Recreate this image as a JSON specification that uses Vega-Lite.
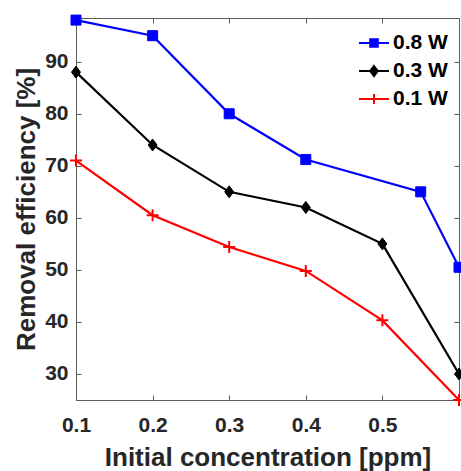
{
  "$schema": "https://vega.github.io/schema/vega-lite/v6.json",
  "width": 383,
  "height": 382,
  "autosize": {"type": "none"},
  "padding": {"left": 76, "top": 18, "right": 2, "bottom": 71},
  "background": "white",
  "data": {
    "values": [
      {"series": "0.8 W", "x": 0.1, "y": 98},
      {"series": "0.8 W", "x": 0.2, "y": 95},
      {"series": "0.8 W", "x": 0.3, "y": 80},
      {"series": "0.8 W", "x": 0.4, "y": 71.2},
      {"series": "0.8 W", "x": 0.55, "y": 65},
      {"series": "0.8 W", "x": 0.6, "y": 50.5},
      {"series": "0.3 W", "x": 0.1, "y": 88},
      {"series": "0.3 W", "x": 0.2, "y": 74},
      {"series": "0.3 W", "x": 0.3, "y": 65},
      {"series": "0.3 W", "x": 0.4, "y": 62},
      {"series": "0.3 W", "x": 0.5, "y": 55},
      {"series": "0.3 W", "x": 0.6, "y": 30},
      {"series": "0.1 W", "x": 0.1, "y": 71},
      {"series": "0.1 W", "x": 0.2, "y": 60.5},
      {"series": "0.1 W", "x": 0.3, "y": 54.4},
      {"series": "0.1 W", "x": 0.4, "y": 49.8},
      {"series": "0.1 W", "x": 0.5, "y": 40.3},
      {"series": "0.1 W", "x": 0.6, "y": 25}
    ]
  },
  "config": {
    "view": {"stroke": null},
    "axis": {
      "grid": false,
      "labelFont": "Liberation Sans",
      "labelFontWeight": "bold",
      "labelFontSize": 21,
      "labelColor": "#262626",
      "titleFont": "Liberation Sans",
      "titleFontWeight": "bold",
      "titleFontSize": 26,
      "titleColor": "#262626",
      "domainColor": "#5a5a5a",
      "domainWidth": 1,
      "tickColor": "#5a5a5a",
      "tickWidth": 1,
      "tickSize": -5
    }
  },
  "layer": [
    {
      "mark": {"type": "line", "strokeWidth": 2.2, "clip": false},
      "encoding": {
        "x": {
          "field": "x", "type": "quantitative",
          "scale": {"domain": [0.1, 0.6], "nice": false, "zero": false},
          "axis": {"orient": "bottom", "values": [0.1, 0.2, 0.3, 0.4, 0.5], "format": ".1f", "labelPadding": 19, "title": "Initial concentration [ppm]", "titlePadding": 9, "labelFlush": false}
        },
        "y": {
          "field": "y", "type": "quantitative",
          "scale": {"domain": [25, 98.4], "nice": false, "zero": false},
          "axis": {"orient": "left", "values": [30, 40, 50, 60, 70, 80, 90], "labelPadding": 13, "title": "Removal efficiency [%]", "titlePadding": 5, "labelFlush": false}
        },
        "color": {
          "field": "series", "type": "nominal",
          "scale": {"domain": ["0.8 W", "0.3 W", "0.1 W"], "range": ["#0000ff", "#000000", "#ff0000"]},
          "legend": {
            "title": null,
            "orient": "none",
            "legendX": 287,
            "legendY": 14,
            "labelFont": "Liberation Sans",
            "labelFontWeight": "bold",
            "labelFontSize": 21,
            "labelColor": "#000000",
            "symbolSize": 400,
            "labelOffset": 8,
            "rowPadding": 7,
            "padding": 0,
            "symbolStrokeWidth": 2,
            "encode": {
              "symbols": {
                "update": {
                  "shape": {"signal": "datum.value === '0.8 W' ? 'M-1.5,0H1.5M-0.38,-0.38H0.38V0.38H-0.38Z' : datum.value === '0.3 W' ? 'M-1.5,0H1.5M0,-0.5L0.38,0L0,0.5L-0.38,0Z' : 'M-1.5,0H1.5M0,-0.5V0.5'"},
                  "fill": {"signal": "datum.value === '0.8 W' ? '#0000ff' : datum.value === '0.3 W' ? '#000000' : 'transparent'"},
                  "stroke": {"signal": "datum.value === '0.8 W' ? '#0000ff' : datum.value === '0.3 W' ? '#000000' : '#ff0000'"},
                  "strokeWidth": {"value": 2}
                }
              }
            }
          }
        }
      }
    },
    {
      "encoding": {
        "x": {"field": "x", "type": "quantitative", "axis": {"orient": "top", "values": [0.1, 0.2, 0.3, 0.4, 0.5, 0.6], "labels": false, "title": null}},
        "y": {"field": "y", "type": "quantitative", "axis": {"orient": "right", "values": [30, 40, 50, 60, 70, 80, 90], "labels": false, "title": null}}
      },
      "layer": [
        {
          "transform": [{"filter": "datum.series === '0.8 W'"}],
          "mark": {"type": "point", "shape": "square", "filled": true, "color": "#0000ff", "stroke": "#0000ff", "strokeWidth": 1, "size": 100, "opacity": 1, "clip": false}
        },
        {
          "transform": [{"filter": "datum.series === '0.3 W'"}],
          "mark": {"type": "point", "shape": "M0,-1.2L0.9,0L0,1.2L-0.9,0Z", "filled": true, "color": "#000000", "stroke": "#000000", "strokeWidth": 1, "size": 100, "opacity": 1, "clip": false}
        },
        {
          "transform": [{"filter": "datum.series === '0.1 W'"}],
          "mark": {"type": "point", "shape": "M-1,0H1M0,-1V1", "filled": false, "color": "#ff0000", "strokeWidth": 2, "size": 144, "opacity": 1, "clip": false}
        }
      ]
    }
  ],
  "resolve": {"axis": {"x": "independent", "y": "independent"}}
}
